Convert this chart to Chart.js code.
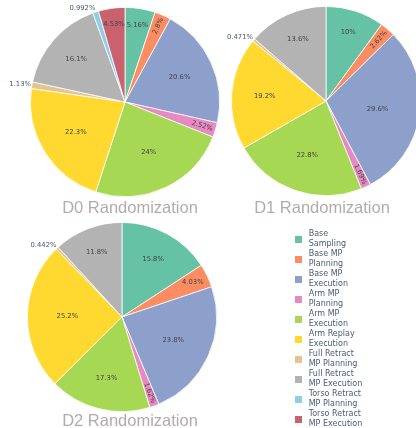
<!DOCTYPE html>
<html>
<head>
<meta charset="utf-8">
<script src="https://cdn.jsdelivr.net/npm/chart.js@4.4.0/dist/chart.umd.min.js"></script>
<style>
html, body { margin: 0; padding: 0; background: #fff; width: 416px; height: 428px; overflow: hidden; position: relative; }
canvas { position: absolute; }
.title { position: absolute; font-family: "Liberation Sans", Arial, sans-serif; font-size: 16.5px; color: #b3abab; transform: translate(-50%, -50%); white-space: nowrap; }
#legend { position: absolute; left: 294px; top: 229px; font-family: "DejaVu Sans", Verdana, sans-serif; font-size: 8px; color: #4b5b75; }
.item { position: relative; height: 20px; }
.swatch { position: absolute; left: 1px; top: 7px; width: 7px; height: 7px; }
.label { position: absolute; left: 14.7px; top: 0; line-height: 10px; white-space: nowrap; }
</style>
</head>
<body>
<canvas id="pie0" width="230" height="205" style="left:0;top:0"></canvas>
<canvas id="pie1" width="230" height="205" style="left:210px;top:0"></canvas>
<canvas id="pie2" width="230" height="210" style="left:0;top:212px"></canvas>
<div class="title" style="left:130px;top:207px">D0 Randomization</div>
<div class="title" style="left:322px;top:207px">D1 Randomization</div>
<div class="title" style="left:130px;top:420px">D2 Randomization</div>
<div id="legend"></div>
<script>
const categories = [
    ['Base', 'Sampling'],
    ['Base MP', 'Planning'],
    ['Base MP', 'Execution'],
    ['Arm MP', 'Planning'],
    ['Arm MP', 'Execution'],
    ['Arm Replay', 'Execution'],
    ['Full Retract', 'MP Planning'],
    ['Full Retract', 'MP Execution'],
    ['Torso Retract', 'MP Planning'],
    ['Torso Retract', 'MP Execution']
];
const colors = ['#66c2a5', '#fc8d62', '#8da0cb', '#e78ac3', '#a6d854', '#ffd92f', '#e5c494', '#b3b3b3', '#8ecfe8', '#c9616e'];

// percentages
const d0Values = [5.16, 2.8, 20.6, 2.52, 24, 22.3, 1.13, 16.1, 0.992, 4.53];
const d1Values = [10, 2.62, 29.6, 1.69, 22.8, 19.2, 0.471, 13.6, 0, 0];
const d2Values = [15.8, 4.03, 23.8, 1.62, 17.3, 25.2, 0.442, 11.8, 0, 0];

function formatPct(v) {
    return parseFloat(v.toPrecision(3)) + '%';
}

const sliceLabels = {
    id: 'sliceLabels',
    afterDatasetsDraw(chart) {
        const ctx = chart.ctx;
        const meta = chart.getDatasetMeta(0);
        const values = chart.data.datasets[0].data;
        ctx.save();
        ctx.font = '6.8px "DejaVu Sans", Verdana, sans-serif';
        ctx.textBaseline = 'middle';
        meta.data.forEach((arc, i) => {
            const v = values[i];
            if (!v) return;
            const p = arc.getProps(['x', 'y', 'startAngle', 'endAngle', 'outerRadius'], true);
            const mid = (p.startAngle + p.endAngle) / 2;
            const r = p.outerRadius;
            const cos = Math.cos(mid), sin = Math.sin(mid);
            const text = formatPct(v);
            const w = ctx.measureText(text).width;
            if (v < 1.5) {
                // outside label
                ctx.fillStyle = '#4b5b75';
                ctx.textAlign = cos < 0 ? 'right' : 'left';
                ctx.fillText(text, p.x + (r + 1) * cos, p.y + r * sin + sin * 4);
            } else if (v < 3.5) {
                // radial label
                const dist = r - w / 2 - 3;
                ctx.save();
                ctx.translate(p.x + dist * cos, p.y + dist * sin);
                ctx.rotate(cos < 0 ? mid + Math.PI : mid);
                ctx.fillStyle = '#444';
                ctx.textAlign = 'center';
                ctx.fillText(text, 0, 0);
                ctx.restore();
            } else {
                const ratio = Math.min(0.86, Math.max(0.55, 0.88 - 0.012 * v));
                ctx.fillStyle = '#444';
                ctx.textAlign = 'center';
                ctx.fillText(text, p.x + r * ratio * cos, p.y + r * ratio * sin);
            }
        });
        ctx.restore();
    }
};

function makePie(id, values, padding) {
    return new Chart(document.getElementById(id), {
        type: 'pie',
        data: {
            labels: categories.map(c => c.join(' ')),
            datasets: [{
                data: values,
                backgroundColor: colors,
                borderColor: '#fff',
                borderWidth: 0.8,
                hoverOffset: 0
            }]
        },
        options: {
            responsive: false,
            animation: false,
            events: [],
            layout: { padding: padding },
            plugins: { legend: { display: false }, tooltip: { enabled: false } }
        },
        plugins: [sliceLabels]
    });
}

makePie('pie0', d0Values, { left: 30, top: 7, right: 10, bottom: 8 });
makePie('pie1', d1Values, { left: 21, top: 6, right: 19, bottom: 9 });
makePie('pie2', d2Values, { left: 27, top: 10, right: 13, bottom: 10 });

const legend = document.getElementById('legend');
legend.innerHTML = categories.map((c, i) => `
    <div class="item">
        <div class="swatch" style="background:${colors[i]}"></div>
        <div class="label">${c[0]}<br>${c[1]}</div>
    </div>
`).join('');
</script>
</body>
</html>
